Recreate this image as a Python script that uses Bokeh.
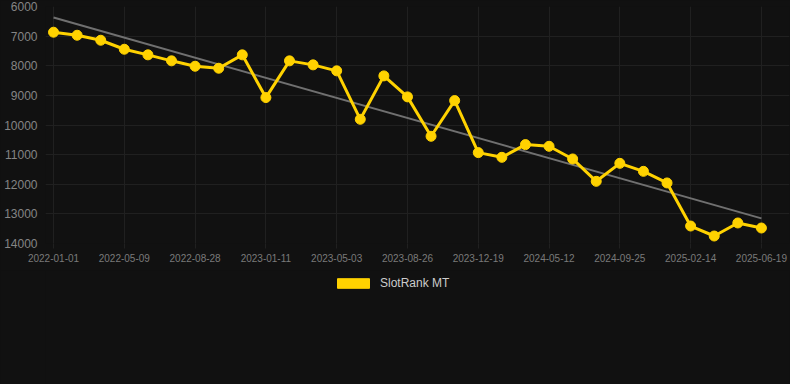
import numpy as np
from bokeh.plotting import figure
from bokeh.layouts import column
from bokeh.models import Range1d, FixedTicker, Legend, LegendItem, ColumnDataSource
from bokeh.embed import file_html
from bokeh.resources import INLINE

# ---- data -------------------------------------------------------------
series_name = "SlotRank MT"
ranks = [6868, 6970, 7139, 7443, 7632, 7834, 8017, 8084, 7632, 9074,
         7835, 7970, 8172, 9807, 8342, 9051, 10381, 9176, 10932, 11091,
         10662, 10719, 11146, 11901, 11294, 11564, 11956, 13410, 13747, 13307,
         13477]
tick_labels = ["2022-01-01", "2022-05-09", "2022-08-28", "2023-01-11",
               "2023-05-03", "2023-08-26", "2023-12-19", "2024-05-12",
               "2024-09-25", "2025-02-14", "2025-06-19"]
label_step = 3
y_ticks = [6000, 7000, 8000, 9000, 10000, 11000, 12000, 13000, 14000]

# ---- styling ----------------------------------------------------------
BG = "#111111"
YELLOW = "#FFD200"
GRID = "#202020"
TREND = "#707070"
FONT = "Liberation Sans"
CSS_BG = {"background-color": BG}

x = list(range(len(ranks)))
tick_pos = list(range(0, len(ranks), label_step))

p = figure(width=790, height=270, output_backend="svg", toolbar_location=None,
           x_range=Range1d(-0.34, 31.19), y_range=Range1d(14000, 6000),
           background_fill_color=BG, border_fill_color=BG,
           min_border_left=45, min_border_right=1, min_border_top=6,
           min_border_bottom=27, styles=CSS_BG)
p.outline_line_color = None

# trend line (least squares over the series)
coef = np.polyfit(x, ranks, 1)
tx = [x[0], x[-1]]
p.line(tx, list(np.polyval(coef, tx)), line_color=TREND, line_width=2)

p.line(x, ranks, line_color=YELLOW, line_width=3)
p.scatter(x, ranks, size=10, fill_color=YELLOW, line_color=YELLOW)

# axes
p.yaxis.ticker = FixedTicker(ticks=y_ticks)
p.yaxis.axis_line_color = None
p.yaxis.major_tick_line_color = None
p.yaxis.minor_tick_line_color = None
p.yaxis.major_label_standoff = 2
p.yaxis.major_label_text_font = FONT
p.yaxis.major_label_text_font_size = "12px"
p.yaxis.major_label_text_color = "#858585"

p.xaxis.ticker = FixedTicker(ticks=tick_pos)
p.xaxis.major_label_overrides = {pos: lab for pos, lab in zip(tick_pos, tick_labels)}
p.xaxis.axis_line_color = None
p.xaxis.major_tick_line_color = GRID
p.xaxis.major_tick_in = 0
p.xaxis.major_tick_out = 5
p.xaxis.minor_tick_line_color = None
p.xaxis.major_label_standoff = 5
p.xaxis.major_label_text_font = FONT
p.xaxis.major_label_text_font_size = "10px"
p.xaxis.major_label_text_color = "#7a7a7a"

p.xgrid.ticker = FixedTicker(ticks=tick_pos)
p.xgrid.grid_line_color = GRID
p.ygrid.ticker = FixedTicker(ticks=y_ticks)
p.ygrid.grid_line_color = GRID

# legend strip below the chart
lg = figure(width=790, height=114, output_backend="svg", toolbar_location=None,
            x_range=Range1d(0, 1), y_range=Range1d(0, 1),
            x_axis_type=None, y_axis_type=None,
            background_fill_color=BG, border_fill_color=BG,
            min_border=0, styles=CSS_BG)
lg.outline_line_color = None
lg.grid.visible = False
# swatch renderer kept outside the strip's visible range; only its legend glyph shows
legend_src = ColumnDataSource(dict(left=[5], right=[6], top=[6], bottom=[5]))
box = lg.quad(left="left", right="right", top="top", bottom="bottom",
              source=legend_src, fill_color=YELLOW, line_color=YELLOW)
legend = Legend(items=[LegendItem(label=series_name, renderers=[box])],
                location=(288, 94), orientation="horizontal",
                glyph_width=40, glyph_height=12, label_height=12,
                label_standoff=7, padding=0, margin=0, spacing=0,
                border_line_color=None, background_fill_alpha=0,
                label_text_color="#cccccc", label_text_font=FONT,
                label_text_font_size="12px", label_text_baseline="middle")
lg.add_layout(legend, "center")

page = column(p, lg, spacing=0, styles=CSS_BG)
html = file_html(page, INLINE)
html = html.replace("<body>", '<body style="background-color:#111111;">', 1)
open("out.html", "w").write(html)
